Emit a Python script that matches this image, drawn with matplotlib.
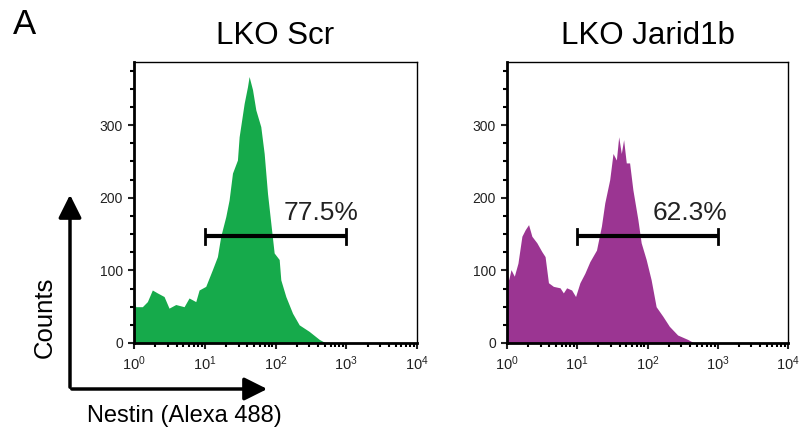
import numpy as np
import matplotlib.pyplot as plt
from matplotlib.patches import FancyArrowPatch
from matplotlib.ticker import LogLocator, MultipleLocator, FixedLocator

plt.rcParams['font.family'] = ['Liberation Sans', 'DejaVu Sans']

# histogram outlines, x in log10(intensity), y in counts
scr_log = [0.0, 0.006, 0.024, 0.118, 0.189, 0.259, 0.330, 0.425, 0.495, 0.590, 0.708,
           0.778, 0.873, 0.920, 1.014, 1.108, 1.179, 1.226, 1.297, 1.344, 1.392,
           1.462, 1.486, 1.557, 1.604, 1.627, 1.675, 1.722, 1.792, 1.840, 1.887,
           1.934, 1.981, 2.052, 2.075, 2.146, 2.241, 2.335, 2.476, 2.618, 2.712]
scr_cnt = [400, 60, 50, 50, 57, 73, 69, 64, 48, 53, 50,
           62, 57, 73, 78, 101, 119, 147, 174, 197, 234,
           252, 284, 330, 353, 367, 349, 321, 298, 261, 206,
           165, 124, 115, 87, 64, 41, 25, 16, 5, 0]

jar_log = [0.0, 0.006, 0.024, 0.057, 0.104, 0.156, 0.212, 0.259, 0.307, 0.354, 0.425,
           0.495, 0.542, 0.590, 0.660, 0.755, 0.802, 0.849, 0.920, 0.976, 1.038,
           1.108, 1.179, 1.274, 1.344, 1.392, 1.462, 1.509, 1.557, 1.590, 1.627,
           1.660, 1.698, 1.745, 1.792, 1.863, 1.910, 1.981, 2.052, 2.123, 2.217,
           2.311, 2.429, 2.571, 2.665]
jar_cnt = [400, 95, 87, 101, 92, 110, 147, 156, 163, 147, 138,
           126, 119, 83, 78, 76, 69, 76, 73, 64, 83,
           96, 112, 128, 161, 193, 225, 261, 252, 284, 261,
           280, 248, 248, 211, 170, 138, 115, 87, 50, 37,
           23, 11, 5, 0]

titles = ["LKO Scr", "LKO Jarid1b"]
gate_pct = ["77.5%", "62.3%"]
gate_lo, gate_hi, gate_y = 10, 1000, 147
label_x = [10 ** 2.64, 10 ** 2.605]
colors = ["#16aa4b", "#9b3592"]

fig = plt.figure(figsize=(7.99, 4.37), dpi=100)
ax1 = fig.add_axes([134 / 799, 1 - 343 / 437, 283 / 799, 281 / 437])
ax2 = fig.add_axes([507 / 799, 1 - 343 / 437, 281 / 799, 281 / 437])

series = [(scr_log, scr_cnt), (jar_log, jar_cnt)]
for ax, (lx, cnt), col, title, pct, tx in zip([ax1, ax2], series, colors, titles,
                                             gate_pct, label_x):
    x = 10 ** np.array(lx)
    ax.fill_between(x, cnt, 0, color=col, linewidth=0)
    ax.set_xscale('log')
    ax.set_xlim(1, 1e4)
    ax.set_ylim(0, 387)
    ax.yaxis.set_major_locator(FixedLocator([0, 100, 200, 300]))
    ax.yaxis.set_minor_locator(MultipleLocator(25))
    ax.xaxis.set_major_locator(LogLocator(base=10, numticks=10))
    ax.xaxis.set_minor_locator(LogLocator(base=10, subs=np.arange(2, 10), numticks=10))
    ax.tick_params(which='major', direction='out', length=4, width=1.5, labelsize=10,
                   colors='#222222', pad=4)
    ax.tick_params(which='minor', direction='out', length=3, width=1.5)
    ax.tick_params(axis='x', which='major', labelsize=10.5, pad=4)
    for sp in ax.spines.values():
        sp.set_linewidth(1.0)
    ax.spines['left'].set_linewidth(2)
    ax.spines['bottom'].set_linewidth(2)
    ax.set_title(title, fontsize=22.5, pad=13)
    # gate
    ax.plot([gate_lo, gate_hi], [gate_y, gate_y], color='black', lw=3, solid_capstyle='butt')
    ax.plot([gate_lo, gate_lo], [gate_y - 10, gate_y + 10], color='black', lw=2)
    ax.plot([gate_hi, gate_hi], [gate_y - 10, gate_y + 10], color='black', lw=2)
    ax.text(tx, gate_y + 16, pct, fontsize=19, ha='center', va='bottom', color='#222222')

fig.text(13 / 799, 1 - 25 / 437, "A", fontsize=25, va='center', ha='left')

# axis direction arrows
arrow_style = '-|>,head_length=7,head_width=3.5'
fig.add_artist(FancyArrowPatch(
    (70 / 799, 1 - 390 / 437), (70 / 799, 1 - 192 / 437), transform=fig.transFigure,
    arrowstyle=arrow_style, lw=2.5, color='black', mutation_scale=2))
fig.add_artist(FancyArrowPatch(
    (69 / 799, 1 - 389 / 437), (270 / 799, 1 - 389 / 437), transform=fig.transFigure,
    arrowstyle=arrow_style, lw=2.5, color='black', mutation_scale=2))
fig.text(45 / 799, 1 - 317 / 437, "Counts", rotation=90, fontsize=18.5,
         ha='center', va='center')
fig.text(184 / 799, 1 - 416 / 437, "Nestin (Alexa 488)", fontsize=17,
         ha='center', va='center')

fig.savefig("out.png", dpi=100)
